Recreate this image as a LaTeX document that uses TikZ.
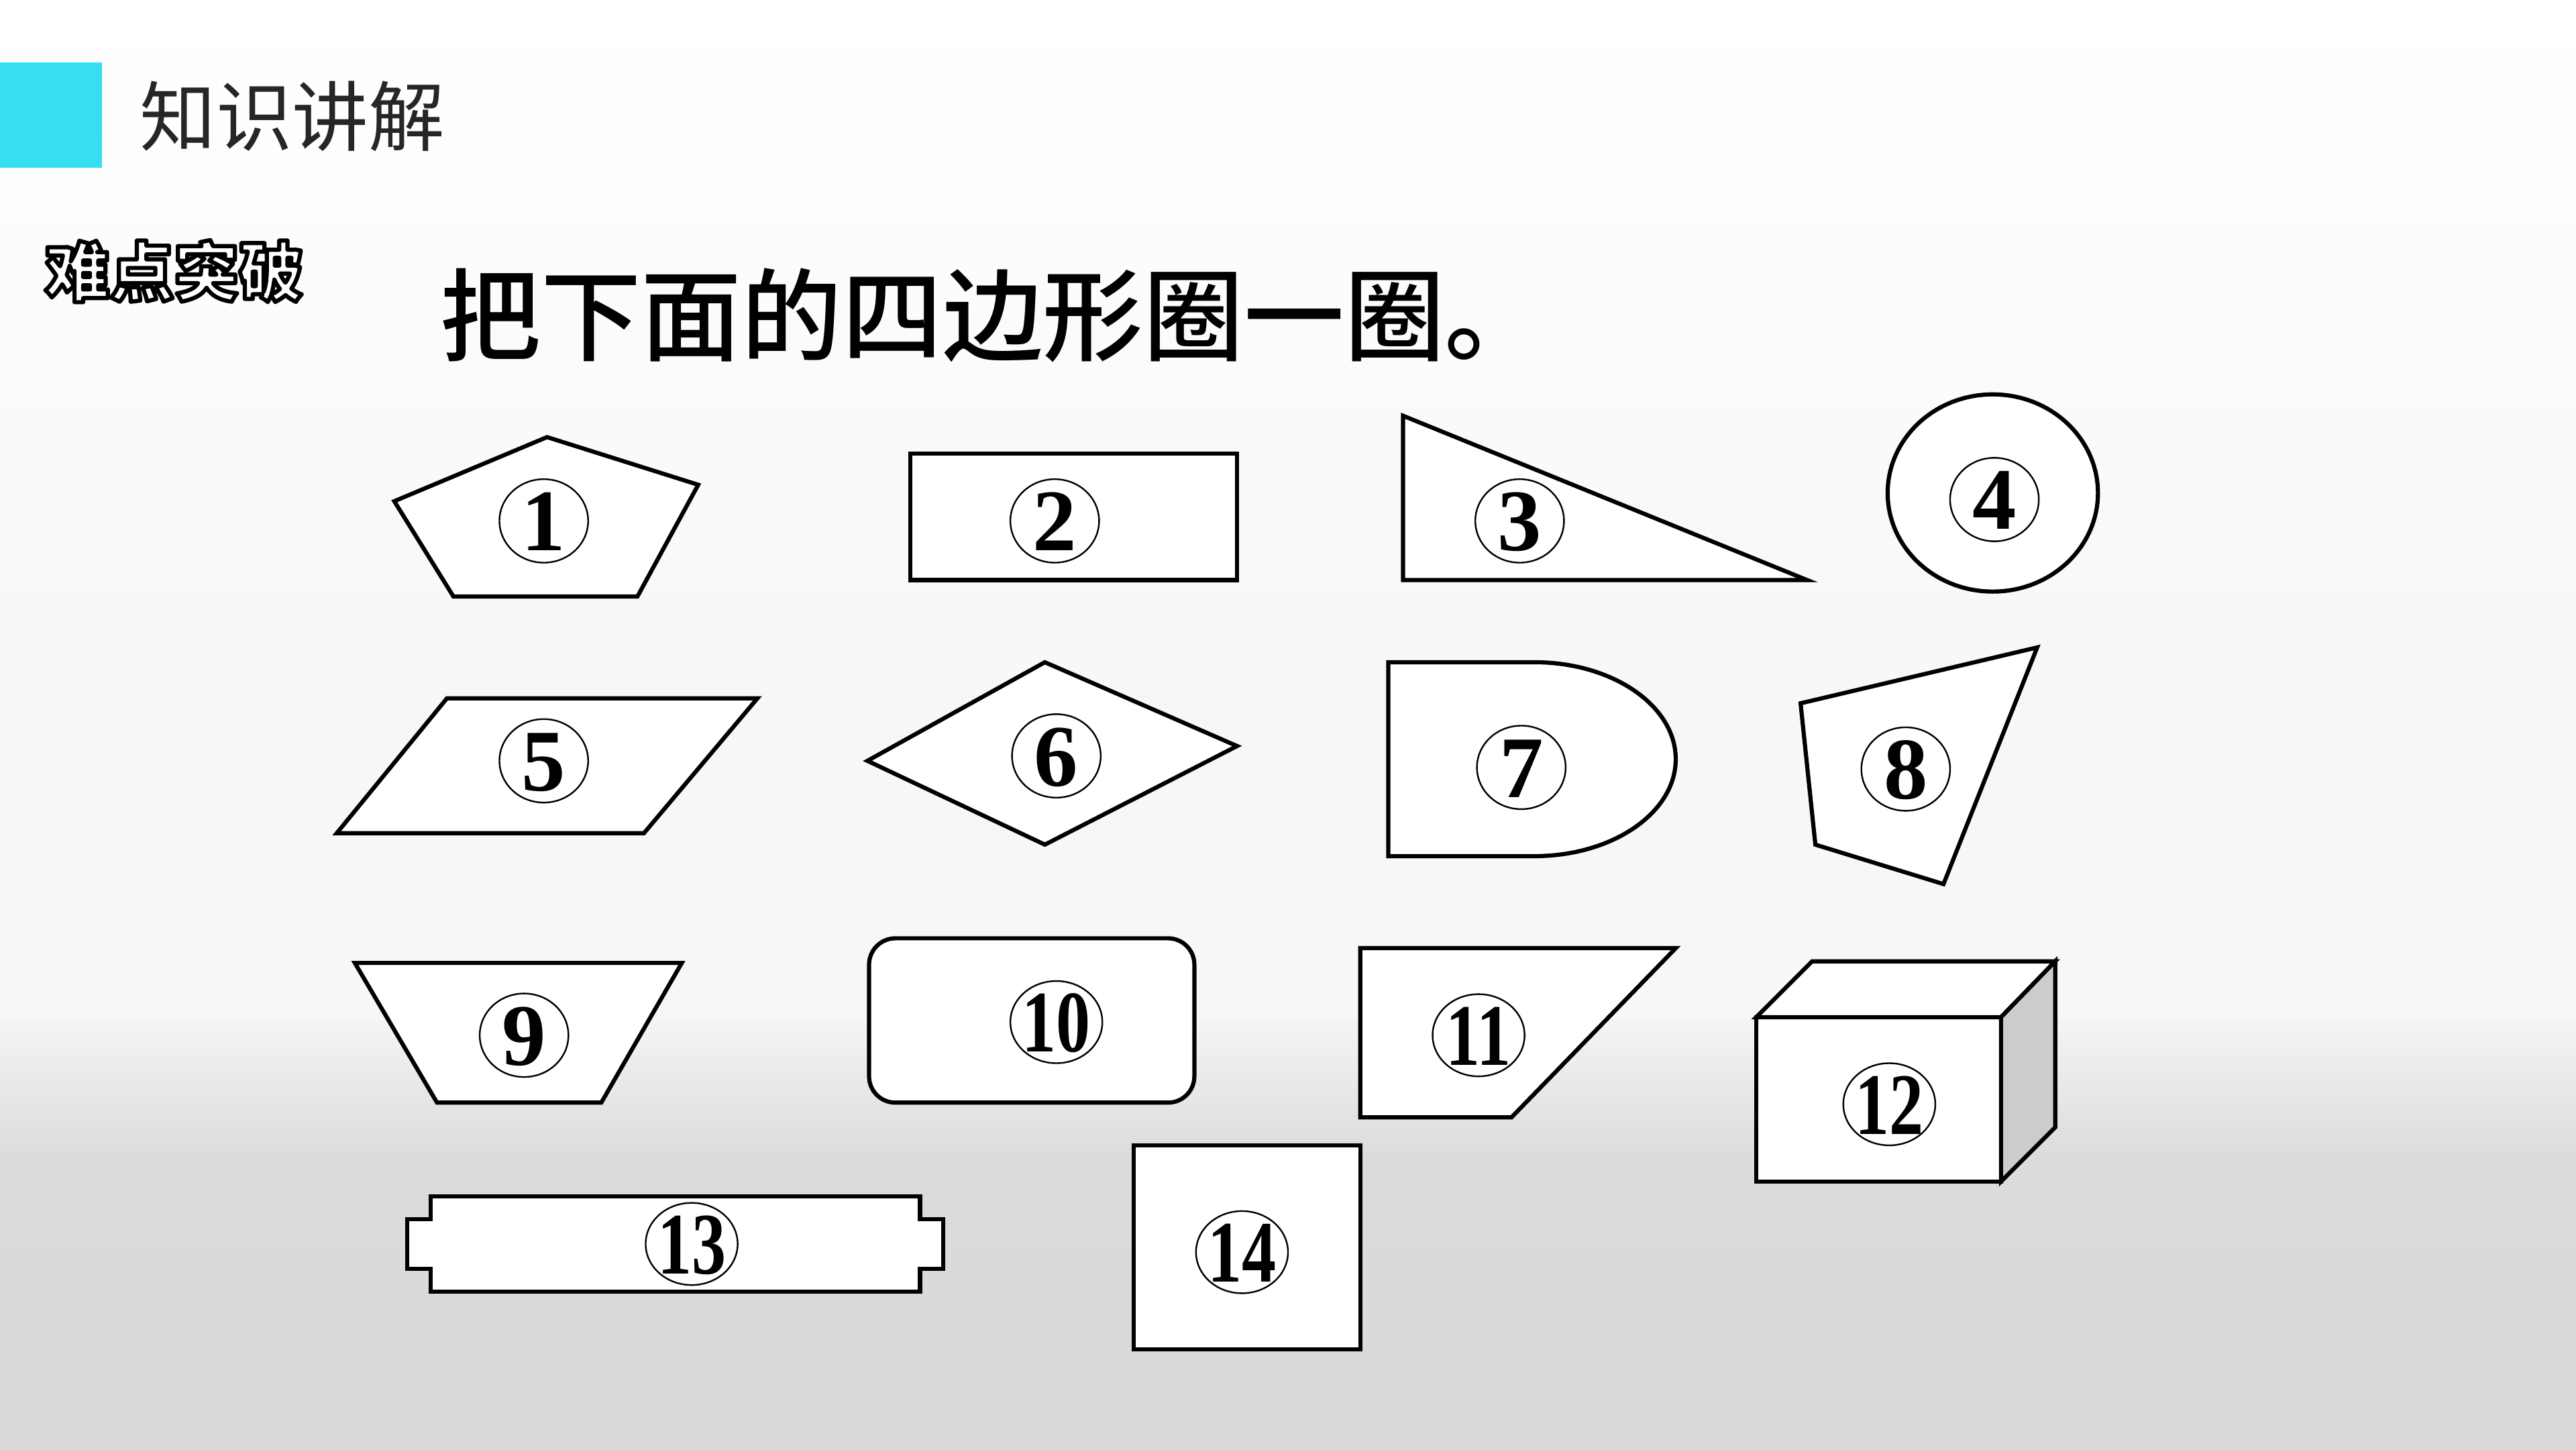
\documentclass[tikz,border=0pt]{standalone}
\usepackage{fontspec}
\usetikzlibrary{positioning, shapes.geometric, calc}

\newfontfamily\cjk{Noto Sans CJK SC}
\newfontfamily\cjkheavy{Noto Sans CJK SC Black}
\newfontfamily\cjkmid{Noto Sans CJK SC Medium}
\newfontfamily\numfont{Liberation Serif}
\definecolor{tagcyan}{RGB}{54,222,242}
\definecolor{headgray}{RGB}{38,38,38}
\definecolor{sidegray}{RGB}{204,204,204}

% digits inside the small ellipses
\newcommand{\numtxt}[1]{{\numfont\bfseries\fontsize{38}{38}\selectfont\makebox[0pt]{\raisebox{-0.34em}[0pt][0pt]{#1}}}}
\newcommand{\numtwo}[1]{\numtxt{\scalebox{0.78}[1]{#1}}}
% white letters with a black rim
\newcommand{\rimtext}[1]{\special{pdf:literal direct 2 Tr 1.8 w 0 G 1 j}#1\special{pdf:literal direct 0 Tr 1 w 0 j}}

\begin{document}
\begin{tikzpicture}[x=0.25mm, y=-0.25mm,
    figline/.style={draw, fill=white, line width=1.8pt, line join=miter},
    numtag/.style={ellipse, draw, line width=0.7pt, inner sep=0pt,
      minimum width=13.5mm, minimum height=12.7mm},
    numwide/.style={numtag, minimum width=14mm, minimum height=12.5mm}]

  \useasboundingbox (0,0) rectangle (1568,882);

  % background
  \shade[top color=white, bottom color=black!3] (0,0) rectangle (1568,420);
  \fill[black!3] (0,420) rectangle (1568,620);
  \shade[top color=black!4, bottom color=black!14] (0,620) rectangle (1568,705);
  \shade[top color=black!14, bottom color=black!15] (0,705) rectangle (1568,882);

  % header
  \fill[tagcyan] (0,38) rectangle (62,102);
  \node[font=\cjk\fontsize{33}{33}\selectfont, text=headgray] (head) at (178,71) {知识讲解};
  \node[font=\cjkheavy\fontsize{28}{28}\selectfont, text=white] (hard) at (106,165)
    {\rimtext{难点突破}};
  \node[font=\cjkmid\fontsize{43.5}{43.5}\selectfont, anchor=west] (task) at (263,192)
    {把下面的四边形圈一圈。};

  % row 1
  \draw[figline] (240,305) -- (333,266) -- (425,295) -- (388,363) -- (276,363) -- cycle;
  \draw[figline] (554,276) rectangle (753,353);
  \draw[figline] (854,253) -- (1100,353) -- (854,353) -- cycle;
  \draw[figline] (1213,300) ellipse [x radius=64, y radius=60];

  % row 2
  \draw[figline] (205,507) -- (272,425) -- (461,425) -- (392,507) -- cycle;
  \draw[figline] (528,463) -- (636,403) -- (753,454) -- (636,514) -- cycle;
  \draw[figline] (845,403) -- (934,403)
    arc [start angle=-90, end angle=90, x radius=86, y radius=59] -- (845,521) -- cycle;
  \draw[figline] (1096,428) -- (1240,394) -- (1183,538) -- (1105,514) -- cycle;

  % row 3
  \draw[figline] (216,586) -- (415,586) -- (366,671) -- (266,671) -- cycle;
  \draw[figline, rounded corners=4mm] (529,571) rectangle (727,671);
  \draw[figline] (828,577) -- (1020,577) -- (920,680) -- (828,680) -- cycle;
  \draw[figline] (1069,619) rectangle (1218,719);
  \draw[figline] (1069,619) -- (1103,585) -- (1251,585) -- (1218,619) -- cycle;
  \draw[figline, fill=sidegray] (1218,619) -- (1251,585) -- (1251,686) -- (1218,719) -- cycle;

  % row 4
  \draw[figline] (262,728) -- (560,728) -- (560,742) -- (574,742) -- (574,772) -- (560,772)
    -- (560,786) -- (262,786) -- (262,772) -- (248,772) -- (248,742) -- (262,742) -- cycle;
  \draw[figline] (690,697) rectangle (828,821);

  % number tags
  \node[numtag] (n1) at (331,317) {\numtxt{1}};
  \node[numtag] (n2) at (642,317) {\numtxt{2}};
  \node[numtag] (n3) at (925,317) {\numtxt{3}};
  \node[numtag] (n4) at (1214,304) {\numtxt{4}};
  \node[numtag] (n5) at (331,463) {\numtxt{5}};
  \node[numtag] (n6) at (643,460) {\numtxt{6}};
  \node[numtag] (n7) at (926,467) {\numtxt{7}};
  \node[numtag] (n8) at (1160,468) {\numtxt{8}};
  \node[numtag] (n9) at (319,630) {\numtxt{9}};
  \node[numwide] (n10) at (643,622) {\numtwo{10}};
  \node[numwide] (n11) at (900,630) {\numtwo{11}};
  \node[numwide] (n12) at (1150,672) {\numtwo{12}};
  \node[numwide] (n13) at (421,757) {\numtwo{13}};
  \node[numwide] (n14) at (756,762) {\numtwo{14}};
\end{tikzpicture}
\end{document}
